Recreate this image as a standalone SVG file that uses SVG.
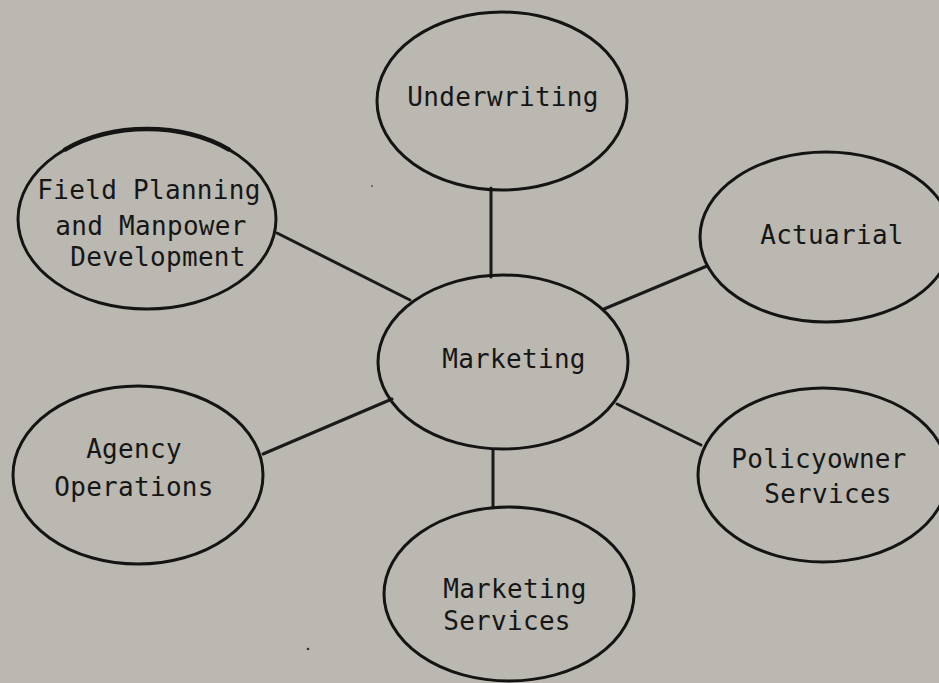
<svg xmlns="http://www.w3.org/2000/svg" width="939" height="683" viewBox="0 0 939 683">
  <style>
    .bubble { fill: none; stroke: #141414; stroke-width: 3; }
    .link { stroke: #1a1a1a; stroke-width: 3; stroke-linecap: round; }
    .label { font-family: "DejaVu Sans Mono", "Liberation Mono", monospace; font-size: 26px; fill: #161616; text-anchor: middle; letter-spacing: 0.3px; }
  </style>
  <rect width="939" height="683" fill="#bab8b0"/>

  <g id="connectors">
    <line class="link" x1="491" y1="188" x2="491" y2="277"/>
    <line class="link" x1="277" y1="233" x2="410" y2="300"/>
    <line class="link" x1="707" y1="266" x2="604" y2="309"/>
    <line class="link" x1="263" y1="454" x2="392" y2="399"/>
    <line class="link" x1="617" y1="404" x2="701" y2="445"/>
    <line class="link" x1="493" y1="450" x2="493" y2="507"/>
  </g>

  <g id="underwriting">
    <ellipse class="bubble" cx="502" cy="101" rx="125" ry="89"/>
    <text class="label" x="503" y="106">Underwriting</text>
  </g>

  <g id="field-planning">
    <ellipse class="bubble" cx="147" cy="219" rx="129" ry="90"/>
    <!-- heavier pen stroke along the top of the outline -->
    <path d="M 64.1 150.1 A 129 90 0 0 1 229.9 150.1" fill="none" stroke="#141414" stroke-width="4.5"/>
    <text class="label" x="149" y="199">Field Planning</text>
    <text class="label" x="151" y="235">and Manpower</text>
    <text class="label" x="158" y="266">Development</text>
  </g>

  <g id="actuarial">
    <ellipse class="bubble" cx="826" cy="237" rx="126" ry="85"/>
    <text class="label" x="832" y="244">Actuarial</text>
  </g>

  <g id="marketing">
    <ellipse class="bubble" cx="503" cy="362" rx="125" ry="87"/>
    <text class="label" x="514" y="368">Marketing</text>
  </g>

  <g id="agency-operations">
    <ellipse class="bubble" cx="138" cy="475" rx="125" ry="89"/>
    <text class="label" x="134" y="458">Agency</text>
    <text class="label" x="134" y="496">Operations</text>
  </g>

  <g id="policyowner-services">
    <ellipse class="bubble" cx="823" cy="475" rx="125" ry="87"/>
    <text class="label" x="819" y="468">Policyowner</text>
    <text class="label" x="828" y="503">Services</text>
  </g>

  <g id="marketing-services">
    <ellipse class="bubble" cx="509" cy="594" rx="125" ry="87"/>
    <text class="label" x="515" y="598">Marketing</text>
    <text class="label" x="507" y="630">Services</text>
  </g>

  <circle cx="308" cy="649" r="1.3" fill="#333"/>
  <circle cx="372" cy="186" r="1" fill="#555"/>
</svg>
